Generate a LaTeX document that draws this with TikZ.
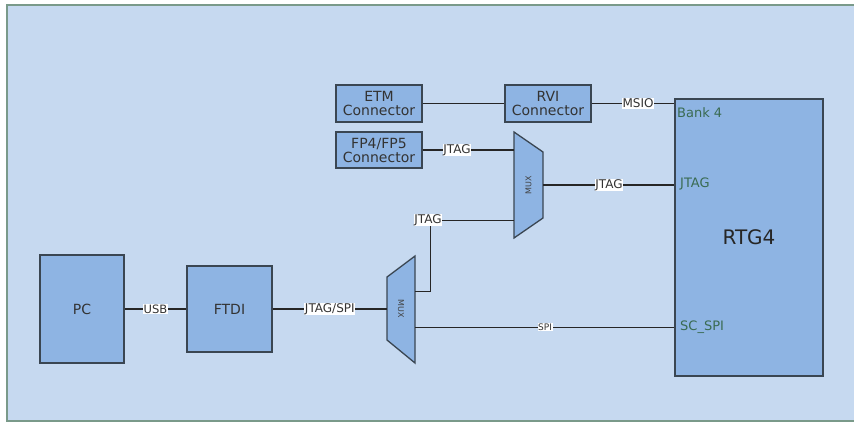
\documentclass[tikz,border=0pt]{standalone}
\usepackage{fontspec}
\setmainfont{DejaVu Sans}
\definecolor{bgc}{HTML}{C6D9F0}
\definecolor{boxc}{HTML}{8EB4E3}
\definecolor{edgec}{HTML}{3A4652}
\definecolor{framec}{HTML}{7A9A8A}
\definecolor{pinc}{HTML}{3A6B52}
\tikzset{
  blk/.style={draw=edgec, line width=1.3pt, fill=boxc, inner sep=0pt, align=center, text=black!80, font=\fontsize{14}{15}\selectfont},
  wire/.style={draw=black!85, line width=1.8pt},
  thinwire/.style={draw=black!85, line width=1pt},
  tag/.style={fill=white, inner sep=0.6pt, text=black!80, font=\fontsize{12}{13}\selectfont},
  pin/.style={text=pinc, anchor=west, inner sep=0pt, font=\fontsize{13}{14}\selectfont},
  muxshape/.style={draw=edgec, line width=1.3pt, fill=boxc},
  muxtxt/.style={font=\fontsize{8}{9}\selectfont, inner sep=0pt, text=black!75}
}
\begin{document}
\begin{tikzpicture}[x=1pt,y=-1pt]
\useasboundingbox (0,0) rectangle (854,423);
\fill[white] (0,0) rectangle (854,423);
\draw[framec, line width=1.8pt, fill=bgc] (7,5) rectangle (880,421);

% blocks
\node[blk, minimum width=84pt, minimum height=108pt] (pc) at (82,309) {PC};
\node[blk, minimum width=85pt, minimum height=86pt] (ftdi) at (229.5,309) {FTDI};
\node[blk, minimum width=86pt, minimum height=37pt] (etm) at (379,103.5) {ETM\\[-1pt]Connector};
\node[blk, minimum width=86pt, minimum height=37pt] (rvi) at (548,103.5) {RVI\\[-1pt]Connector};
\node[blk, minimum width=86pt, minimum height=36pt] (fp) at (379,150) {FP4/FP5\\[-1pt]Connector};
\node[blk, minimum width=148pt, minimum height=277pt] (rtg) at (749,237.5) {};
\node[font=\fontsize{20}{22}\selectfont, text=black!85] (rtgname) at (749,237) {RTG4};

% multiplexers
\draw[muxshape] (387,277) -- (415,256) -- (415,363) -- (387,340) -- cycle;
\node[muxtxt, rotate=-90] (mux1) at (401,309) {MUX};
\coordinate (m1in) at (387,309);
\coordinate (m1oa) at (415,291);
\coordinate (m1ob) at (415,327);
\coordinate (bend) at (430,220);

\draw[muxshape] (514,132) -- (543,152) -- (543,218) -- (514,238) -- cycle;
\node[muxtxt, rotate=90] (mux2) at (528.5,185) {MUX};
\coordinate (m2ia) at (514,150);
\coordinate (m2ib) at (514,220);
\coordinate (m2o) at (543,185);

% pin labels
\node[pin] (bank) at (677,113) {Bank 4};
\node[pin] (pjtag) at (680,184) {JTAG};
\node[pin] (pspi) at (680,327) {SC\_SPI};

% connectors
\draw[wire] (pc.east) -- node[tag, font=\fontsize{11.5}{12}\selectfont] (usb) {USB} (ftdi.west);
\draw[wire] (ftdi.east) -- node[tag] (js) {JTAG/SPI} (m1in);
\draw[thinwire] (m1oa) -- (m1oa -| bend) -- (bend) -- (m2ib);
\node[tag] (jlow) at (428,220) {JTAG};
\draw[thinwire] (m1ob) -- (m1ob -| rtg.west);
\node[tag, font=\fontsize{9}{10}\selectfont] (spi) at (545,327) {SPI};
\draw[wire] (fp.east) -- (m2ia);
\node[tag] (jfp) at (457,150) {JTAG};
\draw[wire] (m2o) -- (m2o -| rtg.west);
\node[tag] (jout) at (609,185) {JTAG};
\draw[wire, line width=1.4pt] (etm.east) -- (rvi.west);
\draw[wire, line width=1.4pt] (rvi.east) -- (rvi.east -| rtg.west);
\node[tag] (msio) at (638,103.5) {MSIO};
\end{tikzpicture}
\end{document}
